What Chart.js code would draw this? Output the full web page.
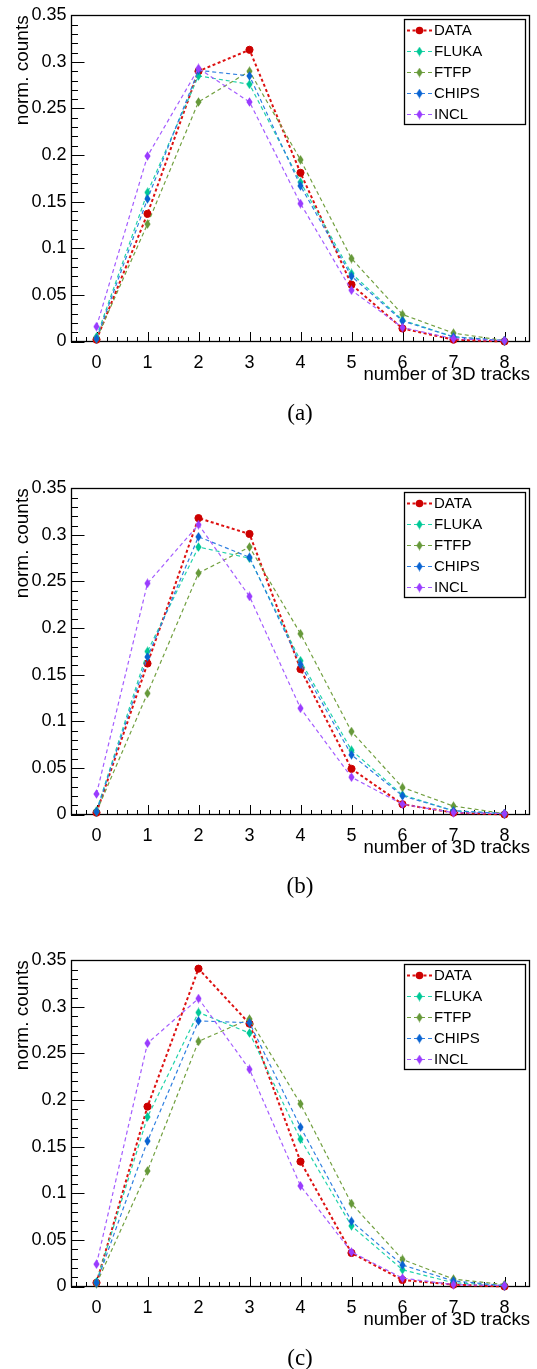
<!DOCTYPE html>
<html>
<head>
<meta charset="utf-8">
<script src="https://cdn.jsdelivr.net/npm/chart.js@4.4.1/dist/chart.umd.min.js"></script>
<style>
html,body{margin:0;padding:0;background:#fff;width:537px;height:1369px;overflow:hidden}
.panel{position:absolute;left:0;width:537px}
.cap{position:absolute;width:60px;margin-left:-30px;text-align:center;font-family:"Liberation Serif","Times New Roman",serif;font-size:23px;line-height:23px;color:#000}
</style>
</head>
<body>
<canvas id="cA" class="panel" style="top:0px" width="537" height="473"></canvas>
<canvas id="cB" class="panel" style="top:473px" width="537" height="473"></canvas>
<canvas id="cC" class="panel" style="top:945px" width="537" height="424"></canvas>
<div class="cap" style="left:300px;top:401px">(a)</div>
<div class="cap" style="left:300px;top:874px">(b)</div>
<div class="cap" style="left:300px;top:1346px">(c)</div>
<script>
// ---- data ----
const X_VALUES = [0, 1, 2, 3, 4, 5, 6, 7, 8];
const SERIES = ['DATA', 'FLUKA', 'FTFP', 'CHIPS', 'INCL'];
const X_TICKS = [0, 1, 2, 3, 4, 5, 6, 7, 8];
const X_TICK_LABELS = ['0', '1', '2', '3', '4', '5', '6', '7', '8'];
const Y_TICKS = [0, 0.05, 0.1, 0.15, 0.2, 0.25, 0.3, 0.35];
const Y_TICK_LABELS = ['0', '0.05', '0.1', '0.15', '0.2', '0.25', '0.3', '0.35'];
const X_TITLE = 'number of 3D tracks';
const Y_TITLE = 'norm. counts';

// panel (a)
const A_DATA  = [0.002, 0.137, 0.290, 0.313, 0.181, 0.061, 0.014, 0.002, 0.000];
const A_FLUKA = [0.005, 0.160, 0.285, 0.276, 0.171, 0.073, 0.023, 0.005, 0.001];
const A_FTFP  = [0.003, 0.126, 0.257, 0.290, 0.195, 0.089, 0.029, 0.009, 0.001];
const A_CHIPS = [0.003, 0.153, 0.291, 0.285, 0.167, 0.070, 0.022, 0.005, 0.001];
const A_INCL  = [0.016, 0.199, 0.293, 0.257, 0.148, 0.055, 0.015, 0.003, 0.001];
// panel (b)
const B_DATA  = [0.002, 0.162, 0.318, 0.301, 0.156, 0.049, 0.011, 0.002, 0.000];
const B_FLUKA = [0.004, 0.175, 0.287, 0.275, 0.165, 0.069, 0.021, 0.004, 0.001];
const B_FTFP  = [0.003, 0.130, 0.259, 0.287, 0.194, 0.089, 0.029, 0.009, 0.001];
const B_CHIPS = [0.003, 0.169, 0.298, 0.276, 0.161, 0.064, 0.020, 0.004, 0.001];
const B_INCL  = [0.022, 0.248, 0.311, 0.234, 0.114, 0.040, 0.011, 0.002, 0.001];
// panel (c)
const C_DATA  = [0.004, 0.193, 0.341, 0.282, 0.134, 0.036, 0.007, 0.002, 0.000];
const C_FLUKA = [0.005, 0.182, 0.294, 0.272, 0.158, 0.065, 0.018, 0.004, 0.001];
const C_FTFP  = [0.003, 0.124, 0.263, 0.287, 0.196, 0.089, 0.029, 0.008, 0.002];
const C_CHIPS = [0.004, 0.156, 0.285, 0.283, 0.171, 0.070, 0.023, 0.006, 0.001];
const C_INCL  = [0.024, 0.261, 0.309, 0.233, 0.108, 0.037, 0.009, 0.002, 0.001];

// ---- styles ----
const LINE_COLORS   = ['#dd1111', '#22d3aa', '#72a040', '#2f7fe0', '#a45cff'];
const MARKER_COLORS = ['#cc0000', '#00c896', '#66993a', '#0a64d2', '#9a3cff'];
const SANS = '"Liberation Sans", Arial, Helvetica, sans-serif';

function diamond(color) {
  const c = document.createElement('canvas');
  c.width = 7; c.height = 10;
  const g = c.getContext('2d');
  g.fillStyle = color;
  g.beginPath();
  g.moveTo(3.5, 0.3); g.lineTo(6.6, 5); g.lineTo(3.5, 9.7); g.lineTo(0.4, 5);
  g.closePath(); g.fill();
  return c;
}

const frameTicks = {
  id: 'frameTicks',
  beforeDatasetsDraw(chart) {
    const {ctx, chartArea: a, scales: {x, y}} = chart;
    ctx.save();
    ctx.strokeStyle = '#000';
    ctx.lineWidth = 1;
    ctx.beginPath();
    for (let i = 0; i <= 35; i++) {
      const py = Math.round(y.getPixelForValue(i / 100)) + 0.5;
      const len = (i % 5 === 0) ? 13.5 : 7;
      ctx.moveTo(a.left, py); ctx.lineTo(a.left + len, py);
    }
    for (let i = -2; i <= 42; i++) {
      const v = i / 5;
      if (v < x.min || v > x.max) continue;
      const px = Math.round(x.getPixelForValue(v)) + 0.5;
      const len = (i % 5 === 0) ? 9.5 : 4.5;
      ctx.moveTo(px, a.bottom); ctx.lineTo(px, a.bottom - len);
    }
    ctx.stroke();
    ctx.lineWidth = 1.3;
    ctx.strokeRect(Math.round(a.left) + 0.5, Math.round(a.top) + 0.5,
                   Math.round(a.right - a.left) - 1, Math.round(a.bottom - a.top));
    ctx.restore();
  }
};

const legendBox = {
  id: 'legendBox',
  afterDatasetsDraw(chart) {
    const ctx = chart.ctx;
    ctx.save();
    ctx.fillStyle = '#fff';
    ctx.fillRect(404, 19, 122, 106);
    ctx.strokeStyle = '#000';
    ctx.lineWidth = 1.3;
    ctx.strokeRect(404.5, 19.5, 121, 105);
    chart.data.datasets.forEach((ds, i) => {
      const cy = 30.5 + i * 21;
      ctx.strokeStyle = ds.borderColor;
      ctx.lineWidth = ds.borderWidth;
      ctx.setLineDash(ds.borderDash);
      ctx.beginPath(); ctx.moveTo(407, cy); ctx.lineTo(432, cy); ctx.stroke();
      ctx.setLineDash([]);
      if (i === 0) {
        ctx.fillStyle = ds.pointBackgroundColor;
        ctx.beginPath(); ctx.arc(419.5, cy, 3.8, 0, Math.PI * 2); ctx.fill();
      } else {
        const img = ds.pointStyle;
        ctx.drawImage(img, 419.5 - img.width / 2, cy - img.height / 2);
      }
      ctx.fillStyle = '#000';
      ctx.font = '15px ' + SANS;
      ctx.textBaseline = 'middle';
      ctx.textAlign = 'left';
      ctx.fillText(ds.label, 434, cy + 0.5);
    });
    ctx.restore();
  }
};

function makeChart(id, h, series) {
  const datasets = SERIES.map((name, i) => ({
    label: name,
    data: X_VALUES.map((xv, j) => ({x: xv, y: series[i][j]})),
    borderColor: LINE_COLORS[i],
    backgroundColor: MARKER_COLORS[i],
    pointBackgroundColor: MARKER_COLORS[i],
    pointBorderColor: MARKER_COLORS[i],
    pointBorderWidth: 1,
    pointStyle: i === 0 ? 'circle' : diamond(MARKER_COLORS[i]),
    pointRadius: i === 0 ? 3.6 : 4,
    borderWidth: i === 0 ? 2 : 1.2,
    borderDash: i === 0 ? [3, 2.5] : [4, 3],
    tension: 0,
    fill: false,
    clip: false,
    order: 5 - i
  }));
  return new Chart(document.getElementById(id), {
    type: 'line',
    data: {datasets},
    options: {
      responsive: false,
      animation: false,
      devicePixelRatio: 1,
      layout: {padding: {left: 0, right: 7, top: 15, bottom: 0}},
      plugins: {legend: {display: false}, tooltip: {enabled: false}},
      scales: {
        x: {
          type: 'linear', min: -0.5, max: 8.5,
          afterBuildTicks: s => { s.ticks = X_TICKS.map(v => ({value: v})); },
          afterFit: s => { s.height = h - 341.5; },
          grid: {display: false, drawTicks: false},
          border: {display: false},
          ticks: {
            color: '#000', font: {family: SANS, size: 18}, padding: 11,
            maxRotation: 0, autoSkip: false,
            callback: (v, i) => X_TICK_LABELS[i]
          },
          title: {
            display: true, text: X_TITLE, align: 'end', color: '#000',
            font: {family: SANS, size: 18.5},
            padding: {top: 0, bottom: h - 375.3 - 11.1}
          }
        },
        y: {
          type: 'linear', min: 0, max: 0.35,
          afterBuildTicks: s => { s.ticks = Y_TICKS.map(v => ({value: v})); },
          afterFit: s => { s.width = 71; },
          grid: {display: false, drawTicks: false},
          border: {display: false},
          ticks: {
            color: '#000', font: {family: SANS, size: 18}, padding: 4.5,
            callback: (v, i) => Y_TICK_LABELS[i]
          },
          title: {
            display: true, text: Y_TITLE, align: 'end', color: '#000',
            font: {family: SANS, size: 19},
            padding: {top: 11, bottom: 0}
          }
        }
      }
    },
    plugins: [frameTicks, legendBox]
  });
}

makeChart('cA', 473, [A_DATA, A_FLUKA, A_FTFP, A_CHIPS, A_INCL]);
makeChart('cB', 473, [B_DATA, B_FLUKA, B_FTFP, B_CHIPS, B_INCL]);
makeChart('cC', 424, [C_DATA, C_FLUKA, C_FTFP, C_CHIPS, C_INCL]);
</script>
</body>
</html>
